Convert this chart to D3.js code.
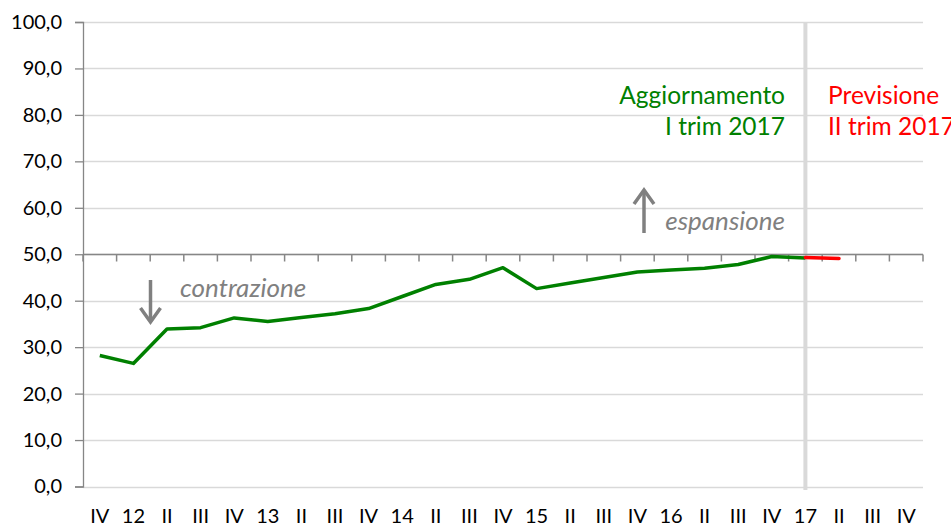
<!DOCTYPE html>
<html>
<head>
<meta charset="utf-8">
<script src="https://cdn.jsdelivr.net/npm/d3@7"></script>
<style>
  body { margin: 0; background: #fff; }
  svg text { font-family: Lato, "Open Sans", sans-serif; }
</style>
</head>
<body>
<div id="vis"></div>
<script>
// quarters, IV 2011 .. IV 2017
var quarters = ['IV','12','II','III','IV','13','II','III','IV','14','II','III','IV',
                '15','II','III','IV','16','II','III','IV','17','II','III','IV'];

// indice (aggiornamento I trim 2017)
var updateValues = [28.2, 26.5, 33.9, 34.2, 36.3, 35.5, 36.4, 37.2, 38.3, 40.9, 43.5,
                    44.6, 47.1, 42.6, 43.8, 45.0, 46.2, 46.6, 47.0, 47.8, 49.5, 49.2];

// previsione II trim 2017
var forecastValues = [49.3, 49.1];
var forecastStart = 21;

var yTicks = [0, 10, 20, 30, 40, 50, 60, 70, 80, 90, 100];

var width = 951;
var height = 527;
var margin = { top: 22, right: 28, bottom: 40, left: 83 };

var svg = d3.select('#vis').append('svg')
    .attr('width', width)
    .attr('height', height);

var x = d3.scaleBand()
    .domain(d3.range(quarters.length))
    .range([margin.left, width - margin.right])
    .padding(0);

var y = d3.scaleLinear()
    .domain([0, 100])
    .range([height - margin.bottom - 0.5, margin.top]);

function cx(i) { return x(i) + x.bandwidth() / 2; }

// gridlines
svg.append('g')
    .selectAll('line')
    .data(yTicks)
    .enter().append('line')
    .attr('x1', margin.left)
    .attr('x2', width - margin.right)
    .attr('y1', function (d) { return Math.round(y(d)) + 0.5; })
    .attr('y2', function (d) { return Math.round(y(d)) + 0.5; })
    .attr('stroke', '#d9d9d9')
    .attr('stroke-width', 1.3);

// y axis
var yAxis = svg.append('g')
    .attr('transform', 'translate(' + margin.left + ',0)')
    .call(d3.axisLeft(y).tickValues(yTicks).tickSize(8).tickPadding(13)
        .tickFormat(function (d) { return d3.format('.1f')(d).replace('.', ','); }));
yAxis.select('.domain').attr('stroke', '#868686').attr('stroke-width', 1.3);
yAxis.selectAll('.tick line').attr('stroke', '#868686').attr('stroke-width', 1.3);
yAxis.selectAll('.tick text')
    .attr('font-size', 20)
    .attr('fill', '#000');

// vertical separator at 17
svg.append('line')
    .attr('x1', cx(forecastStart))
    .attr('x2', cx(forecastStart))
    .attr('y1', margin.top)
    .attr('y2', height - margin.bottom + 3)
    .attr('stroke', '#d9d9d9')
    .attr('stroke-width', 4);

// category axis crossing at 50
var xAxis = svg.append('g')
    .attr('transform', 'translate(0,' + (Math.round(y(50)) + 0.5) + ')');
xAxis.append('line')
    .attr('x1', margin.left)
    .attr('x2', width - margin.right)
    .attr('stroke', '#868686')
    .attr('stroke-width', 1.5);
xAxis.selectAll('.cat-tick')
    .data(d3.range(quarters.length + 1))
    .enter().append('line')
    .attr('class', 'cat-tick')
    .attr('x1', function (i) { return margin.left + i * x.bandwidth(); })
    .attr('x2', function (i) { return margin.left + i * x.bandwidth(); })
    .attr('y1', 0)
    .attr('y2', 7)
    .attr('stroke', '#868686')
    .attr('stroke-width', 1.5);

// category labels at the bottom
svg.append('g')
    .selectAll('text')
    .data(quarters)
    .enter().append('text')
    .attr('x', function (d, i) { return cx(i); })
    .attr('y', height - 4)
    .attr('text-anchor', 'middle')
    .attr('font-size', 20)
    .attr('fill', '#000')
    .text(function (d) { return d; });

var line = d3.line()
    .x(function (d) { return cx(d.i); })
    .y(function (d) { return y(d.v); });

svg.append('path')
    .datum(updateValues.map(function (v, i) { return { i: i, v: v }; }))
    .attr('d', line)
    .attr('fill', 'none')
    .attr('stroke', '#008000')
    .attr('stroke-width', 3.5)
    .attr('stroke-linejoin', 'round');

svg.append('path')
    .datum(forecastValues.map(function (v, k) { return { i: forecastStart + k, v: v }; }))
    .attr('d', line)
    .attr('fill', 'none')
    .attr('stroke', '#ff0000')
    .attr('stroke-width', 3.5)
    .attr('stroke-linecap', 'round');

// arrows
var grey = '#808080';
function arrow(xp, y1, y2) {
    var dir = y2 > y1 ? 1 : -1;
    var g = svg.append('g')
        .attr('stroke', grey)
        .attr('stroke-width', 3.5)
        .attr('fill', 'none');
    g.append('line').attr('x1', xp).attr('x2', xp).attr('y1', y1).attr('y2', y2 - dir * 1);
    g.append('polyline')
        .attr('points', [[xp - 10, y2 - dir * 14], [xp, y2], [xp + 10, y2 - dir * 14]].join(' '))
        .attr('stroke-linejoin', 'miter');
}
arrow(150.5, 280, 322);
arrow(644, 233, 190);

svg.append('text')
    .attr('x', 180)
    .attr('y', 297)
    .attr('font-size', 26)
    .attr('font-style', 'italic')
    .attr('fill', grey)
    .text('contrazione');

svg.append('text')
    .attr('x', 785)
    .attr('y', 230)
    .attr('text-anchor', 'end')
    .attr('font-size', 26)
    .attr('font-style', 'italic')
    .attr('fill', grey)
    .text('espansione');

svg.append('text')
    .attr('x', 785)
    .attr('y', 104)
    .attr('text-anchor', 'end')
    .attr('font-size', 24.5)
    .attr('fill', '#008000')
    .text('Aggiornamento');
svg.append('text')
    .attr('x', 785)
    .attr('y', 135)
    .attr('text-anchor', 'end')
    .attr('font-size', 24.5)
    .attr('fill', '#008000')
    .text('I trim 2017');

svg.append('text')
    .attr('x', 828)
    .attr('y', 104)
    .attr('font-size', 24.5)
    .attr('fill', '#ff0000')
    .text('Previsione');
svg.append('text')
    .attr('x', 828)
    .attr('y', 135)
    .attr('font-size', 24.5)
    .attr('fill', '#ff0000')
    .text('II trim 2017');
</script>
</body>
</html>
